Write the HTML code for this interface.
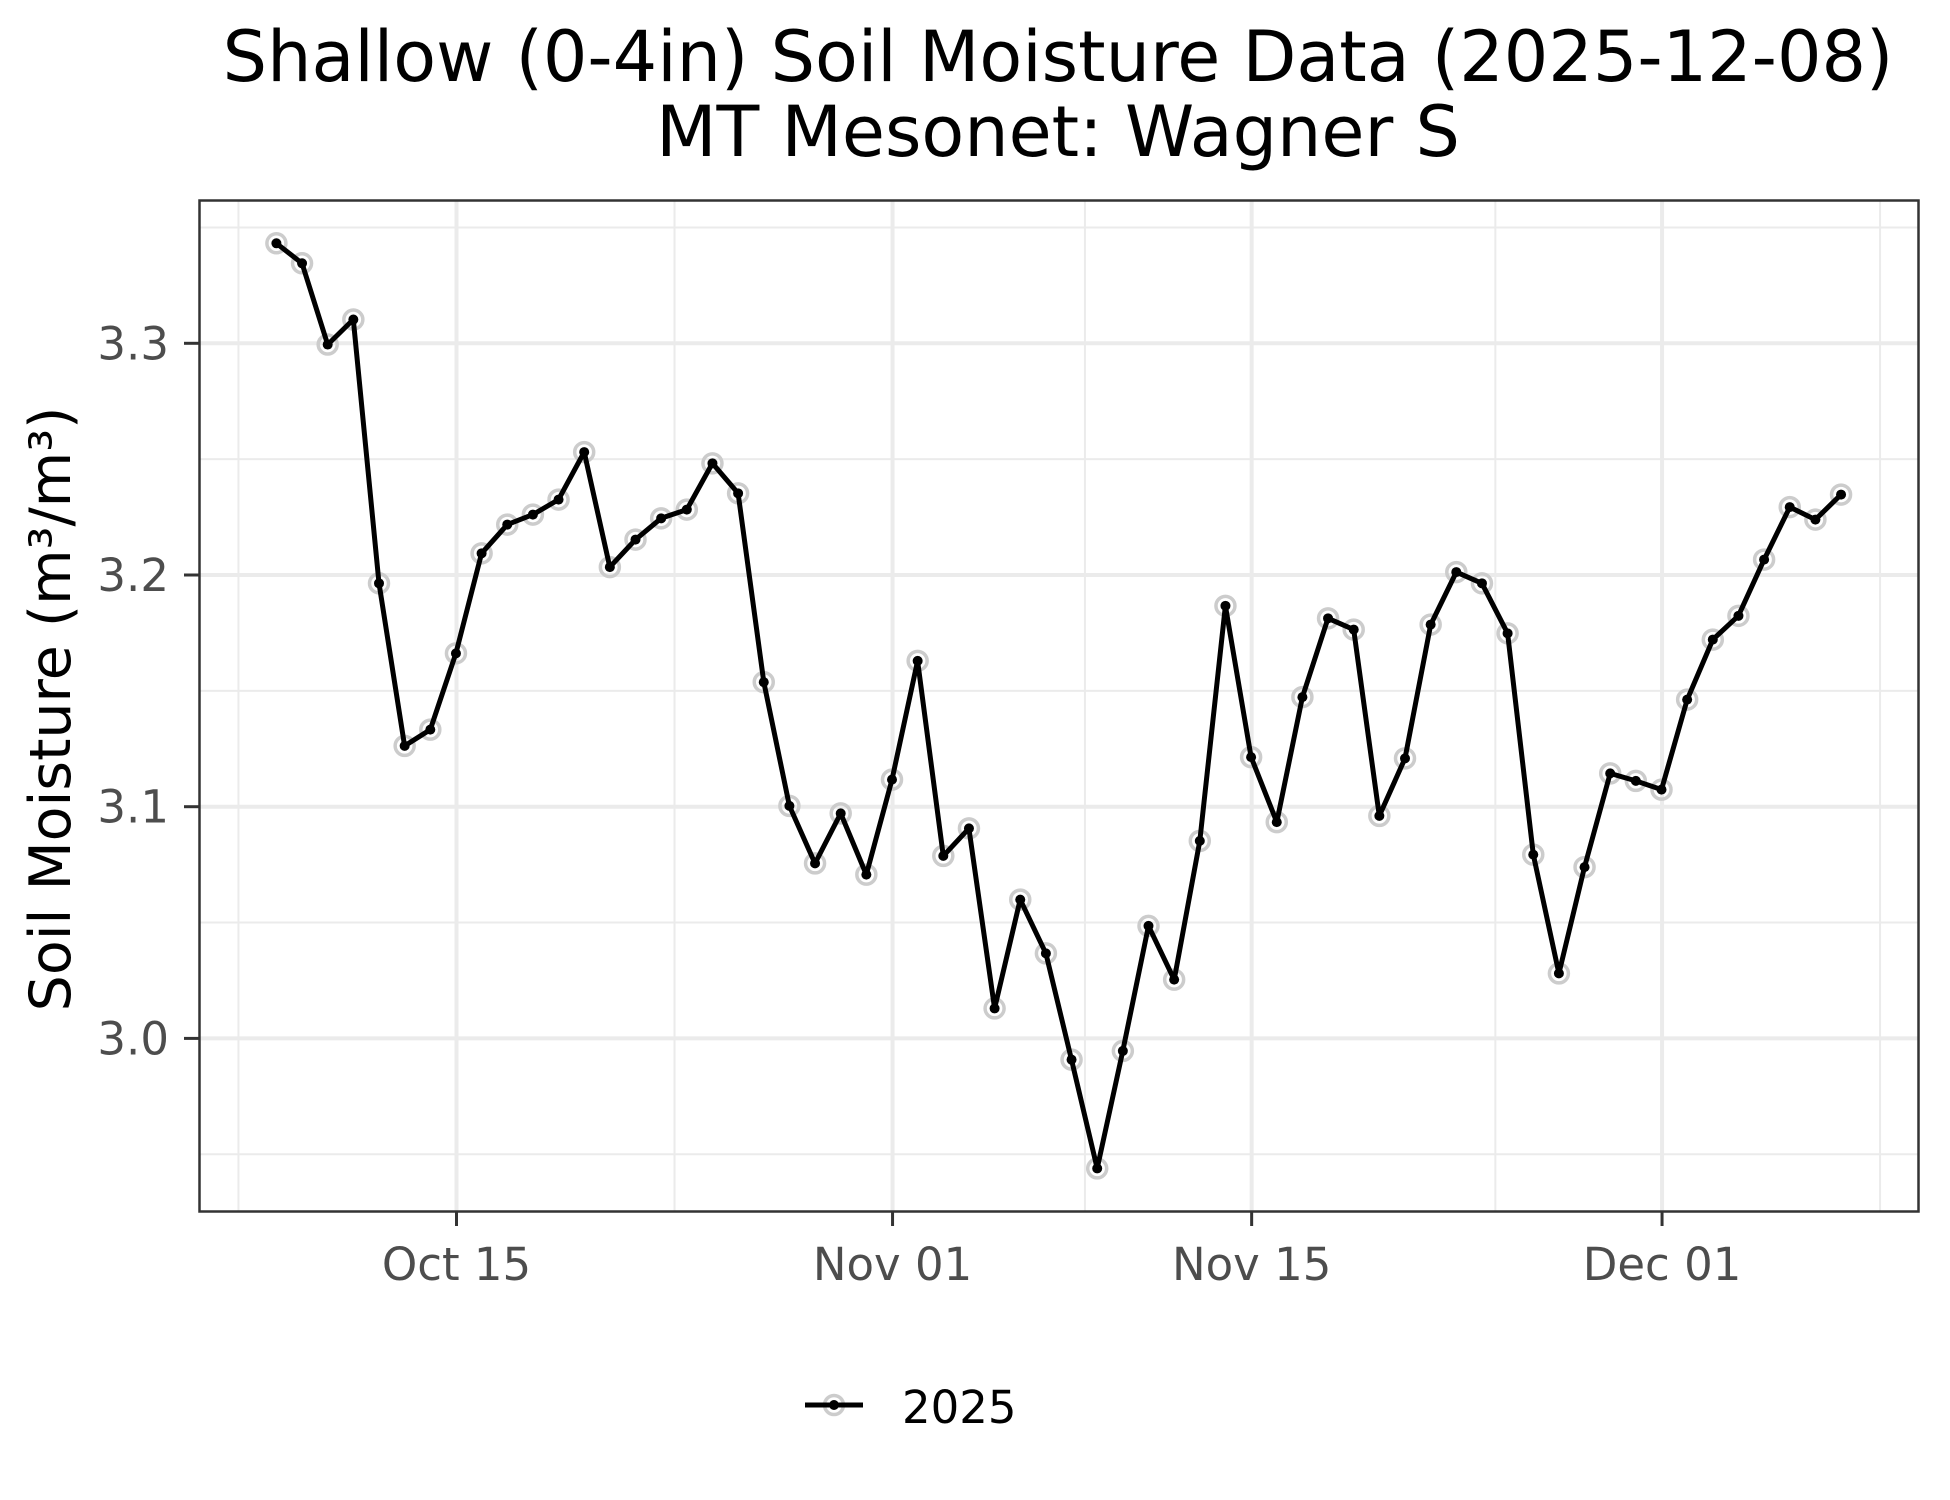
<!DOCTYPE html>
<html><head><meta charset="utf-8"><style>
html,body{margin:0;padding:0;background:#fff}
svg{display:block;font-family:"DejaVu Sans","Liberation Sans",sans-serif}
</style></head><body>
<svg id="s" width="1950" height="1500" viewBox="0 0 1950 1500" xmlns="http://www.w3.org/2000/svg">
<rect width="1950" height="1500" fill="#fff"/>
<text x="1058" y="81" font-size="70" text-anchor="middle" fill="#000">Shallow (0-4in) Soil Moisture Data (2025-12-08)</text>
<text x="1058" y="156" font-size="70" text-anchor="middle" fill="#000">MT Mesonet: Wagner S</text>
<g id="grid"></g>
<g id="data"></g>
<rect x="199.5" y="200.5" width="1719" height="1011" fill="none" stroke="#333" stroke-width="2.5"/>
<g id="ticks" fill="#4d4d4d" font-size="45"></g>
<text transform="translate(70,709) rotate(-90)" font-size="57" text-anchor="middle" fill="#000">Soil Moisture (m³/m³)</text>
<circle cx="834" cy="1405" r="9.5" fill="none" stroke="#ccc" stroke-width="3.5"/>
<line x1="805" y1="1405" x2="863" y2="1405" stroke="#000" stroke-width="5"/>
<circle cx="834" cy="1405" r="5" fill="#000"/>
<text x="902" y="1423" font-size="45" fill="#000">2025</text>
</svg>
<script>
var NS="http://www.w3.org/2000/svg";
function el(p,t,a,txt){var e=document.createElementNS(NS,t);for(var k in a)e.setAttribute(k,a[k]);if(txt)e.textContent=txt;p.appendChild(e);return e;}
var L=200,R=1919,T=201,B=1211;
function X(d){return 456.5+d*25.65;}
function Y(v){return 1038.4-(v-3.0)*2317;}
var g=document.getElementById('grid'),tk=document.getElementById('ticks'),dg=document.getElementById('data');
[-8.5,8.5,24.5,40.5,55.5].forEach(function(d){var x=X(d);el(g,'line',{x1:x,x2:x,y1:T,y2:B,stroke:'#ebebeb','stroke-width':2});});
[2.95,3.05,3.15,3.25,3.35].forEach(function(v){var y=Y(v);el(g,'line',{x1:L,x2:R,y1:y,y2:y,stroke:'#ebebeb','stroke-width':2});});
var xs=[[0,'Oct 15'],[17,'Nov 01'],[31,'Nov 15'],[47,'Dec 01']];
xs.forEach(function(a){var x=X(a[0]);el(g,'line',{x1:x,x2:x,y1:T,y2:B,stroke:'#ebebeb','stroke-width':4});
el(tk,'line',{x1:x,x2:x,y1:1212,y2:1226,stroke:'#333','stroke-width':3});
el(tk,'text',{x:x,y:1280,'text-anchor':'middle'},a[1]);});
[[3.0,'3.0'],[3.1,'3.1'],[3.2,'3.2'],[3.3,'3.3']].forEach(function(a){var y=Y(a[0]);el(g,'line',{x1:L,x2:R,y1:y,y2:y,stroke:'#ebebeb','stroke-width':4});
el(tk,'line',{x1:184,x2:199,y1:y,y2:y,stroke:'#333','stroke-width':3});
el(tk,'text',{x:169,y:y+16,'text-anchor':'end'},a[1]);});
var yd=[197,213,278,258,469,599,586,525,445,422,414,402,364,456,434,417,410,373,397,548,647,693,653,702,626,531,687,665,809,722,765,850,937,843,743,786,675,487,608,660,560,497,506,655,609,502,460,469,509,686,781,696,621,627,634,562,514,495,450,408,418,398];
var pts=yd.map(function(y,i){return [276.4+i*25.65,343.3+(y-277)*1.2502];});
pts.forEach(function(p){el(dg,'circle',{cx:p[0],cy:p[1],r:9.5,fill:'none',stroke:'#ccc','stroke-width':3.5});});
el(dg,'polyline',{points:pts.map(function(p){return p[0].toFixed(1)+','+p[1].toFixed(1)}).join(' '),fill:'none',stroke:'#000','stroke-width':5,'stroke-linejoin':'round'});
pts.forEach(function(p){el(dg,'circle',{cx:p[0],cy:p[1],r:5,fill:'#000'});});
</script>
</body></html>
